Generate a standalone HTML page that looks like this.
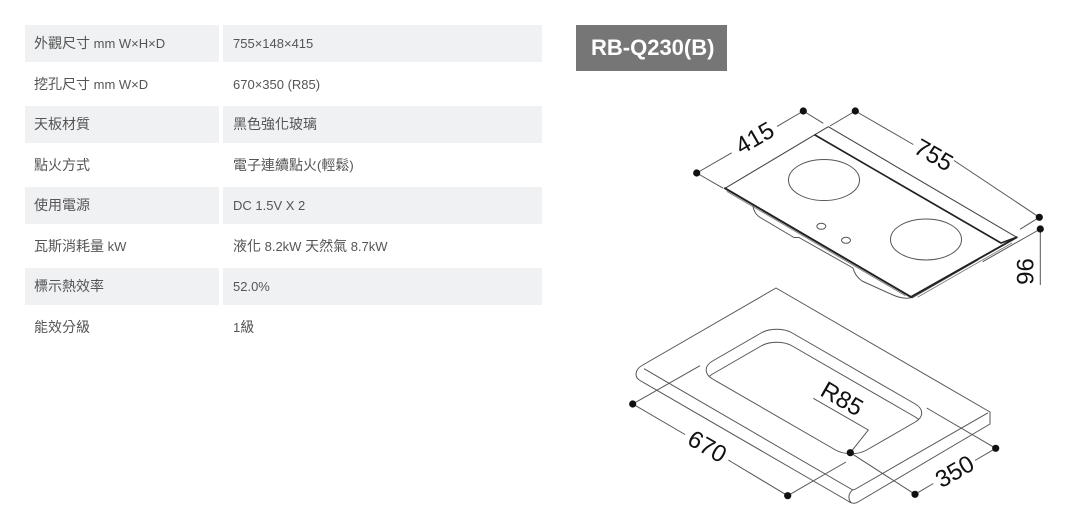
<!DOCTYPE html>
<html><head><meta charset="utf-8">
<style>
html,body{margin:0;padding:0;background:#fff;}
body{width:1069px;height:532px;position:relative;overflow:hidden;font-family:"Liberation Sans","Noto Sans CJK TC",sans-serif;}
.c{position:absolute;height:37px;line-height:37px;font-size:14px;color:#555;white-space:nowrap;font-family:"Liberation Sans","Noto Sans CJK TC",sans-serif;}
.g{background:#f0f1f3;}
.k{left:25px;width:185px;padding-left:9px;}
.v{left:223px;width:309px;padding-left:10px;}
.l{font-size:13px;}
.title{position:absolute;left:576px;top:25px;width:151px;height:46px;background:#767676;color:#fff;font-weight:bold;font-size:22px;line-height:46px;box-sizing:border-box;padding-left:15px;font-family:"Liberation Sans",sans-serif;}
svg{position:absolute;left:0;top:0;}
svg text{font-family:"Liberation Sans",sans-serif;font-size:24px;fill:#111;}
</style></head><body>

<div class="c k g" style="top:25px">外觀尺寸<span class="l"> mm W×H×D</span></div>
<div class="c v g" style="top:25px"><span class="l">755×148×415</span></div>

<div class="c k" style="top:65.5px">挖孔尺寸<span class="l"> mm W×D</span></div>
<div class="c v" style="top:65.5px"><span class="l">670×350 (R85)</span></div>

<div class="c k g" style="top:106px">天板材質</div>
<div class="c v g" style="top:106px">黑色強化玻璃</div>

<div class="c k" style="top:146.5px">點火方式</div>
<div class="c v" style="top:146.5px">電子連續點火<span class="l">(</span>輕鬆<span class="l">)</span></div>

<div class="c k g" style="top:187px">使用電源</div>
<div class="c v g" style="top:187px"><span class="l">DC 1.5V X 2</span></div>

<div class="c k" style="top:227.5px">瓦斯消耗量<span class="l"> kW</span></div>
<div class="c v" style="top:227.5px">液化<span class="l"> 8.2kW </span>天然氣<span class="l"> 8.7kW</span></div>

<div class="c k g" style="top:268px">標示熱效率</div>
<div class="c v g" style="top:268px"><span class="l">52.0%</span></div>

<div class="c k" style="top:308.5px">能效分級</div>
<div class="c v" style="top:308.5px"><span class="l">1</span>級</div>

<div class="title">RB-Q230(B)</div>

<svg width="1069" height="532" viewBox="0 0 1069 532" xmlns="http://www.w3.org/2000/svg">
<defs>
  <clipPath id="cp">
    <rect x="0" y="0" width="178" height="92" rx="18" ry="18" transform="matrix(0.866,0.5,0.866,-0.5,697,370)"/>
  </clipPath>
</defs>

<!-- ===== Cooktop ===== -->
<g fill="none" stroke-linecap="round" stroke-linejoin="round">
  <path d="M753,206 Q754,214 761,218 L794,237.5 L799,237.5 L853,268 Q855,276 862,281 L893,295 Q902,299 910,298" stroke="#555" stroke-width="1"/>
  <path d="M912,298 L978,260" stroke="#555" stroke-width="1"/>
  <path d="M725,188.3 L828.3,126.7 L1016.7,237.3" stroke="#444" stroke-width="1.1"/>
  <path d="M815,135 L1001,243 L1016.7,237.3" stroke="#222" stroke-width="1.7"/>
  <path d="M725,188.3 L911,297" stroke="#222" stroke-width="2"/>
  <path d="M727,191.5 L905,295.5" stroke="#777" stroke-width="0.8"/>
  <path d="M1016.7,237.3 L911,297" stroke="#222" stroke-width="1.9"/>
  <path d="M1012,243 L918,297" stroke="#777" stroke-width="0.8"/>
  <ellipse cx="824" cy="180" rx="35.5" ry="20.5" stroke="#555" stroke-width="1"/>
  <ellipse cx="926" cy="239.5" rx="35.5" ry="20.5" stroke="#555" stroke-width="1"/>
  <ellipse cx="821.3" cy="226.3" rx="4.5" ry="3" stroke="#555" stroke-width="1"/>
  <ellipse cx="846" cy="240.3" rx="4.5" ry="3" stroke="#555" stroke-width="1"/>
</g>

<g stroke="#555" stroke-width="1" fill="none">
  <path d="M696.7,173 L723.3,188.3"/>
  <path d="M803.3,111 L823.3,123.3"/>
  <path d="M855.3,111 L830,126"/>
  <path d="M1039.3,217.3 L1020,229.3"/>
  <path d="M1040.3,229 L982.7,261.7"/>
  <path d="M696.7,173 L731.7,152.8"/>
  <path d="M777,126.4 L803.3,111"/>
  <path d="M855.3,111 L913.3,144.5"/>
  <path d="M954,160.5 L1039.3,217.3"/>
  <path d="M1040.3,229 L1040.3,285"/>
</g>
<g fill="#111">
  <circle cx="696.7" cy="173" r="3.6"/>
  <circle cx="803.3" cy="111" r="3.6"/>
  <circle cx="855.3" cy="111" r="3.6"/>
  <circle cx="1039.3" cy="217.3" r="3.6"/>
  <circle cx="1040.3" cy="229" r="3.6"/>
</g>
<text x="755" y="138.5" text-anchor="middle" dominant-baseline="central" transform="rotate(-30 755 138.5)">415</text>
<text x="933.5" y="155.5" text-anchor="middle" dominant-baseline="central" transform="rotate(30 933.5 155.5)">755</text>
<text x="1026" y="271.5" text-anchor="middle" dominant-baseline="central" transform="rotate(-90 1026 271.5)">96</text>

<!-- ===== Board ===== -->
<g fill="none" stroke="#555" stroke-width="1" stroke-linejoin="round">
  <path d="M990,412 L776,288 L642,365.5 C635,369.5 634,377 640,380.5 L848,501 C851,503.5 855,504 858,502 L990,424 Z"/>
  <path d="M644,368.7 L851,489 C852.5,490 854,490 855.5,489 L988,412.8"/>
  <path d="M852.5,490 C848,494 848,499 851,502.5"/>
  <rect x="0" y="0" width="178" height="92" rx="18" ry="18" transform="matrix(0.866,0.5,0.866,-0.5,697,370)" vector-effect="non-scaling-stroke"/>
  <g clip-path="url(#cp)">
    <rect x="0" y="0" width="178" height="92" rx="18" ry="18" transform="matrix(0.866,0.5,0.866,-0.5,697,383)" vector-effect="non-scaling-stroke"/>
  </g>
</g>

<g stroke="#555" stroke-width="1" fill="none">
  <path d="M632.7,404 L700,365.7"/>
  <path d="M787.7,495.7 L846,462"/>
  <path d="M850.3,452.7 L915,494.3"/>
  <path d="M995.7,448.3 L926.7,408"/>
  <path d="M632.7,404 L685,434.5"/>
  <path d="M728.3,460 L787.7,495.7"/>
  <path d="M915,494.3 L933.3,483.5"/>
  <path d="M975,460.5 L995.7,448.3"/>
  <path d="M813.3,398.3 L868.3,430 L850.3,452.7"/>
</g>
<g fill="#111">
  <circle cx="632.7" cy="404" r="3.6"/>
  <circle cx="787.7" cy="495.7" r="3.6"/>
  <circle cx="850.3" cy="452.7" r="3.6"/>
  <circle cx="915" cy="494.3" r="3.6"/>
  <circle cx="995.7" cy="448.3" r="3.6"/>
</g>
<text x="707" y="447" text-anchor="middle" dominant-baseline="central" transform="rotate(30 707 447)">670</text>
<text x="955" y="472" text-anchor="middle" dominant-baseline="central" transform="rotate(-30 955 472)">350</text>
<text x="841.7" y="399.3" text-anchor="middle" dominant-baseline="central" transform="rotate(30 841.7 399.3)">R85</text>
</svg>
</body></html>
